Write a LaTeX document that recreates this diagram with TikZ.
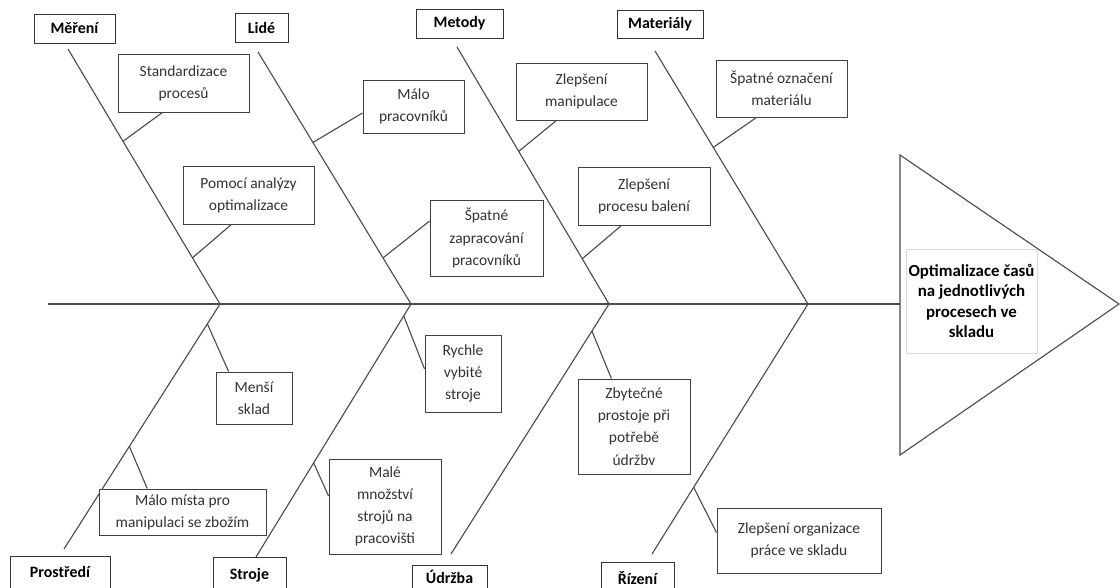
\documentclass[tikz,border=0pt]{standalone}
\usepackage{fontspec}
\setmainfont{Carlito}
\usetikzlibrary{calc}

\tikzset{
	bone/.style={line width=0.8pt, draw=black!70},
	cause/.style={draw=black!75, line width=0.7pt, fill=white, align=center, inner sep=1pt, text=black!80, font=\fontsize{11}{15.8}\selectfont},
	category/.style={draw=black!80, line width=0.7pt, fill=white, align=center, inner sep=1pt, font=\fontsize{11.3}{13}\selectfont\bfseries},
	boxsize/.style 2 args={minimum width=#1*0.025cm, minimum height=#2*0.025cm},
}

\begin{document}
\begin{tikzpicture}[x=0.025cm, y=-0.025cm]
		%size of the whole picture
		\useasboundingbox (0,0) rectangle (1120,587);
		
		%definition of spine and joints
		\coordinate (tail) at (48,304);
		\coordinate (J1) at (220,304);
		\coordinate (J2) at (411,304);
		\coordinate (J3) at (609,304);
		\coordinate (J4) at (808,304);
		
		%head of the fish
		\coordinate (head top) at (900,155);
		\coordinate (head mid) at (900,304);
		\coordinate (head tip) at (1119,304);
		\coordinate (head bottom) at (900,455);
		
		%ends of the bones
		\coordinate (T1) at (68,49);
		\coordinate (T2) at (258,52);
		\coordinate (T3) at (457,47);
		\coordinate (T4) at (655,51);
		\coordinate (B1) at (64,549);
		\coordinate (B2) at (256,557);
		\coordinate (B3) at (451,554);
		\coordinate (B4) at (652,554);
		
		%spine and head
		\draw [bone] (tail) -- (head mid);
		\draw [bone] (head top) -- (head tip) -- (head bottom) -- cycle;
		
		%bones
		\draw [bone] (T1) -- (J1) -- (B1);
		\draw [bone] (T2) -- (J2) -- (B2);
		\draw [bone] (T3) -- (J3) -- (B3);
		\draw [bone] (T4) -- (J4) -- (B4);
		
		%points on the bones
		\coordinate (mer1) at ($(T1)!0.362!(J1)$);
		\coordinate (mer2) at ($(T1)!0.819!(J1)$);
		\coordinate (lid1) at ($(T2)!0.359!(J2)$);
		\coordinate (lid2) at ($(T2)!0.817!(J2)$);
		\coordinate (met1) at ($(T3)!0.406!(J3)$);
		\coordinate (met2) at ($(T3)!0.824!(J3)$);
		\coordinate (mat1) at ($(T4)!0.381!(J4)$);
		\coordinate (pro1) at ($(J1)!0.081!(B1)$);
		\coordinate (pro2) at ($(J1)!0.581!(B1)$);
		\coordinate (str1) at ($(J2)!0.047!(B2)$);
		\coordinate (str2) at ($(J2)!0.628!(B2)$);
		\coordinate (udr1) at ($(J3)!0.108!(B3)$);
		\coordinate (riz1) at ($(J4)!0.733!(B4)$);
		
		%categories
		\node [category, boxsize={81}{29}] (mereni) at (74.5,28.5) {Měření};
		\node [category, boxsize={53}{29}] (lide) at (261.5,27.5) {Lidé};
		\node [category, boxsize={87}{29}] (metody) at (459.5,23.5) {Metody};
		\node [category, boxsize={86}{28}] (materialy) at (660,24) {Materiály};
		\node [category, boxsize={100}{32}] (prostredi) at (60,572) {Prostředí};
		\node [category, boxsize={73}{36}] (stroje) at (249.5,575) {Stroje};
		\node [category, boxsize={75}{24}] (udrzba) at (449.5,577) {Údržba};
		\node [category, boxsize={73}{32}] (rizeni) at (637.5,578) {Řízení};
		
		%problem
		\node [draw=black!15, line width=0.6pt, align=center, inner sep=1pt, boxsize={131}{104}, font=\fontsize{12}{14.5}\selectfont\bfseries] (problem) at (971.5,301) {Optimalizace časů\\na jednotlivých\\procesech ve\\skladu};
		
		%causes
		\node [cause, boxsize={131}{58}] (standard) at (183.5,83) {Standardizace\\procesů};
		\node [cause, boxsize={131}{58}] (analyza) at (248.5,195) {Pomocí analýzy\\optimalizace};
		\node [cause, boxsize={101}{53}] (malo) at (413.5,106.5) {Málo\\pracovníků};
		\node [cause, boxsize={113}{76}] (zapracovani) at (486.5,238) {Špatné\\zapracování\\pracovníků};
		\node [cause, boxsize={131}{57}] (manipulace) at (581.5,91.5) {Zlepšení\\manipulace};
		\node [cause, boxsize={132}{58}] (baleni) at (644,196) {Zlepšení\\procesu balení};
		\node [cause, boxsize={131}{57}] (oznaceni) at (781.5,88.5) {Špatné označení\\materiálu};
		\node [cause, boxsize={76}{52}] (sklad) at (254,398) {Menší\\sklad};
		\node [cause, boxsize={167}{46}] (misto) at (182.5,512) {Málo místa pro\\manipulaci se zbožím};
		\node [cause, boxsize={76}{77}] (vybite) at (463,373.5) {Rychle\\vybité\\stroje};
		\node [cause, boxsize={112}{95}] (mnozstvi) at (385,506.5) {Malé\\množství\\strojů na\\pracovišti};
		\node [cause, boxsize={112}{95}] (prostoje) at (634,426.5) {Zbytečné\\prostoje při\\potřebě\\údržbv};
		\node [cause, boxsize={164}{65}] (organizace) at (799,540.5) {Zlepšení organizace\\práce ve skladu};
		
		%small bones
		\draw [bone] (mer1) -- ($(standard.south west)!0.34!(standard.south east)$);
		\draw [bone] (mer2) -- ($(analyza.south west)!0.37!(analyza.south east)$);
		\draw [bone] (lid1) -- ($(malo.north west)!0.62!(malo.south west)$);
		\draw [bone] (lid2) -- ($(zapracovani.north west)!0.28!(zapracovani.south west)$);
		\draw [bone] (met1) -- ($(manipulace.south west)!0.31!(manipulace.south east)$);
		\draw [bone] (met2) -- ($(baleni.south west)!0.33!(baleni.south east)$);
		\draw [bone] (mat1) -- ($(oznaceni.south west)!0.31!(oznaceni.south east)$);
		\draw [bone] (pro1) -- ($(sklad.north west)!0.17!(sklad.north east)$);
		\draw [bone] (pro2) -- ($(misto.north west)!0.29!(misto.north east)$);
		\draw [bone] (str1) -- ($(vybite.north west)!0.44!(vybite.south west)$);
		\draw [bone] (str2) -- ($(mnozstvi.north west)!0.39!(mnozstvi.south west)$);
		\draw [bone] (udr1) -- ($(prostoje.north west)!0.30!(prostoje.north east)$);
		\draw [bone] (riz1) -- ($(organizace.north west)!0.38!(organizace.south west)$);
	\end{tikzpicture}
\end{document}
